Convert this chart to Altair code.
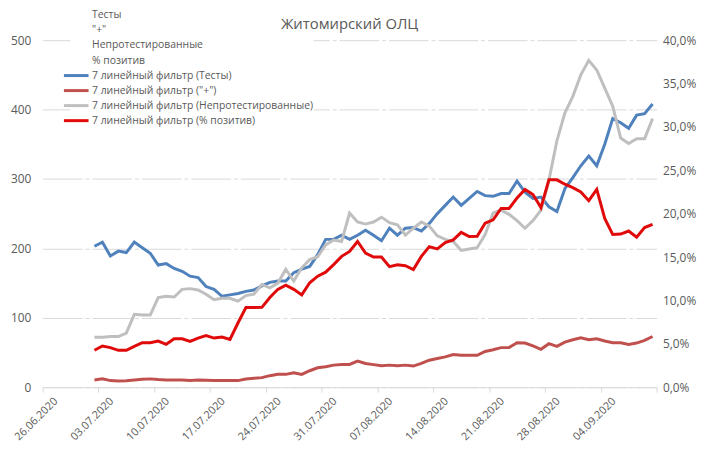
import altair as alt
import pandas as pd

# ---- data (7-day moving averages, first point = 02.07.2020) ----
start_day = 6  # days after 26.06.2020
tests = [203, 209, 189, 196, 194, 209, 201, 193, 176, 178, 171, 167, 160, 158, 145, 141, 131, 133,
         135, 138, 140, 146, 151, 153, 153, 165, 170, 174, 191, 213, 213, 219, 213, 219, 226, 219,
         211, 229, 219, 229, 230, 225, 236, 250, 262, 274, 262, 272, 282, 276, 275, 279, 279,
         297, 281, 272, 274, 260, 253, 286, 302, 319, 333, 319, 350, 387, 381, 373, 392, 394, 408]
plus = [10.4, 12.0, 9.5, 9.0, 9.2, 10.4, 11.5, 12.0, 11.0, 10.5, 10.5, 10.5, 9.5, 10.5, 10.0, 9.5, 9.5, 9.5,
        9.5, 11.9, 12.8, 13.8, 16.6, 18.5, 18.5, 20.9, 18.5, 23.7, 28.0, 29.4, 31.8, 32.8, 32.8, 37.5, 34.2, 32.5,
        30.9, 31.8, 30.9, 31.8, 30.4, 34.2, 38.9, 41.3, 43.7, 47.0, 46.0, 46.0, 46.0, 51.5, 54.0, 57.0, 57.0,
        64.0, 63.6, 59.4, 54.6, 62.7, 58.9, 65.0, 68.4, 71.2, 68.4, 69.8, 66.5, 64.1, 64.1, 61.7, 63.6, 67.4, 73.1]
untested = [72, 72, 73, 73, 78, 105, 104, 104, 129, 131, 130, 141, 142, 140, 134, 126, 128, 128,
            124, 132, 134, 148, 143, 150, 170, 153, 172, 184, 188, 205, 212, 210, 251, 238, 235, 238,
            245, 237, 234, 219, 229, 238, 232, 218, 213, 210, 197, 199, 201, 220, 251, 255, 249,
            240, 229, 240, 255, 298, 355, 395, 419, 450, 471, 457, 431, 405, 359, 351, 358, 358, 387]
positive_pct = [4.25, 4.75, 4.56, 4.25, 4.25, 4.71, 5.13, 5.13, 5.32, 4.94, 5.58, 5.58, 5.28, 5.66, 5.96, 5.66, 5.77, 5.5,
                7.4, 9.19, 9.19, 9.2, 10.33, 11.28, 11.77, 11.28, 10.64, 12.04, 12.8, 13.26, 14.13, 15.08, 15.65, 16.79, 15.46, 15.0,
                15.0, 13.9, 14.1, 14.0, 13.56, 15.08, 16.2, 15.95, 16.67, 16.98, 17.85, 17.36, 17.4, 18.9, 19.3, 20.6, 20.6,
                21.8, 22.8, 22.2, 20.7, 23.9, 23.9, 23.4, 23.0, 22.5, 21.5, 22.8, 19.45, 17.6, 17.65, 18.0, 17.3, 18.4, 18.77]

names = ["Тесты", "\"+\"", "Непротестированные", "% позитив",
         "7 линейный фильтр (Тесты)", "7 линейный фильтр (\"+\")",
         "7 линейный фильтр (Непротестированные)", "7 линейный фильтр (% позитив)"]
colors = ["rgba(0,0,0,0)"] * 4 + ["#4F81BD", "#C0504D", "#BFBFBF", "#E00A0A"]

tick_dates = ["2020-06-26", "2020-07-03", "2020-07-10", "2020-07-17", "2020-07-24", "2020-07-31",
              "2020-08-07", "2020-08-14", "2020-08-21", "2020-08-28", "2020-09-04", "2020-09-11"]
left_ticks = [0, 100, 200, 300, 400, 500]
right_ticks = [0, 0.05, 0.10, 0.15, 0.20, 0.25, 0.30, 0.35, 0.40]

base_date = pd.Timestamp("2020-06-26")
rows = []
for name, vals, scale in [(names[4], tests, 1), (names[5], plus, 1),
                          (names[6], untested, 1), (names[7], positive_pct, 0.01)]:
    for i, v in enumerate(vals):
        rows.append({"date": base_date + pd.Timedelta(hours=24 * (start_day + i) + 12),
                     "value": v * scale, "series": name})
df = pd.DataFrame(rows)

FONT = "Open Sans"
TXT = "#595959"


def dt(s):
    y, m, d = map(int, s.split("-"))
    return alt.DateTime(year=y, month=m, date=d)


x_enc = alt.X("date:T",
              scale=alt.Scale(domain=[dt(tick_dates[0]), dt(tick_dates[-1])]),
              axis=alt.Axis(title=None, values=[dt(t) for t in tick_dates],
                            labelExpr="timeFormat(datum.value, '%d.%m.%Y') == '11.09.2020' ? '' : timeFormat(datum.value, '%d.%m.%Y')",
                            labelAngle=-45, labelOffset=9, labelPadding=3,
                            grid=False, domainColor="#D9D9D9", tickColor="#D9D9D9",
                            tickSize=5, labelColor=TXT, labelFontSize=11, labelFont=FONT))

color_enc = alt.Color("series:N",
                      scale=alt.Scale(domain=names, range=colors),
                      legend=alt.Legend(orient="none", legendX=28, legendY=-31, title=None,
                                        symbolType="M-3,0H3", symbolSize=69, symbolStrokeWidth=3,
                                        labelOffset=10, rowPadding=3.2, labelFontSize=10.5,
                                        labelFont=FONT, labelColor=TXT, fillColor="white",
                                        padding=0, labelLimit=400))

y_left = alt.Y("value:Q", scale=alt.Scale(domain=[0, 500]),
               axis=alt.Axis(title=None, values=left_ticks, grid=True, gridColor="#D9D9D9",
                             gridDash=[40, 3, 4, 3], domain=False, ticks=False, labelPadding=12,
                             labelColor=TXT, labelFontSize=12, labelFont=FONT))
y_right = alt.Y("value:Q", scale=alt.Scale(domain=[0, 0.4]),
                axis=alt.Axis(title=None, orient="right", values=right_ticks, grid=False,
                              domain=False, ticks=False, labelPadding=6,
                              labelExpr="replace(format(datum.value, '.1%'), '.', ',')",
                              labelColor=TXT, labelFontSize=12, labelFont=FONT))

base = alt.Chart(df).encode(x=x_enc, color=color_enc)


def layer(name, y):
    return base.transform_filter(alt.datum.series == name).mark_line(strokeWidth=3).encode(y=y)


left = alt.layer(layer(names[4], y_left), layer(names[5], y_left), layer(names[6], y_left))
right = layer(names[7], y_right)

chart = alt.layer(left, right).resolve_scale(y="independent").properties(
    width=621, height=351,
    title=alt.TitleParams("Житомирский ОЛЦ", fontSize=15, color=TXT, font=FONT,
                          fontWeight="normal", anchor="middle", offset=0, dy=23),
    padding={"left": 35, "top": 30, "right": 49, "bottom": 62},
    autosize=alt.AutoSizeParams(type="none"),
).configure_view(stroke=None)

chart.save("out.html", embed_options={"renderer": "svg", "actions": False})
